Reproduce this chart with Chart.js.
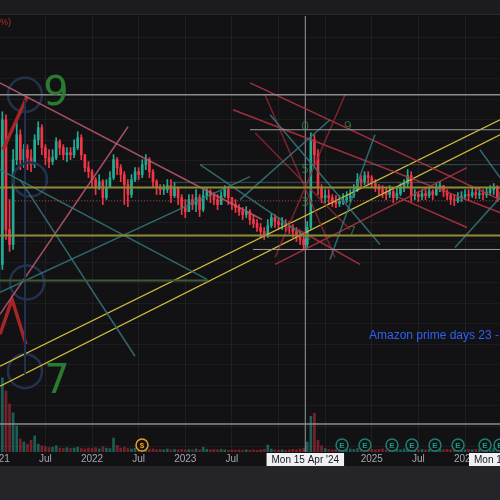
<!DOCTYPE html>
<html>
<head>
<meta charset="utf-8">
<script src="https://cdn.jsdelivr.net/npm/chart.js@4.4.1/dist/chart.umd.min.js"></script>
<style>
  html, body { margin: 0; padding: 0; background: #252529; }
  #wrap { width: 500px; height: 500px; }
</style>
</head>
<body>
<div id="wrap"><canvas id="chart" width="500" height="500"></canvas></div>
<script>
// bi-weekly candles, x is a decimal year, y is price
const startYear = 2021;
const candleStep = 1 / 26;
const firstOpen = 16.0;

const closes = [
  18.8, 33.3, 22.3, 20.8, 29.3, 31.8, 29.3, 30.3, 29.5, 28.8,
  31.3, 32.5, 30.5, 29.5, 29.1, 29.5, 31.1, 30.5, 29.8, 30.0,
  29.8, 30.5, 31.5, 29.8, 28.5, 28.1, 27.3, 26.5, 27.1, 25.5,
  26.5, 27.5, 29.3, 28.5, 27.8, 26.8, 25.8, 27.3, 28.1, 27.8,
  28.8, 29.3, 28.1, 27.1, 26.5, 26.3, 26.3, 26.7, 25.7, 26.5,
  25.5, 24.5, 24.1, 25.3, 24.8, 25.5, 24.3, 25.7, 26.1, 25.7,
  25.3, 24.8, 25.7, 26.3, 25.5, 24.8, 24.5, 24.1, 23.8, 24.1,
  23.3, 22.9, 22.5, 22.1, 21.7, 22.7, 23.5, 23.1, 22.8, 22.9,
  22.7, 22.5, 22.1, 21.7, 21.3, 20.8, 22.5, 31.3, 29.8, 26.5,
  25.5, 25.7, 25.5, 25.1, 24.9, 25.1, 25.3, 25.5, 25.7, 26.3,
  27.3, 27.1, 27.7, 27.5, 26.9, 26.5, 26.3, 26.0, 25.8, 26.1,
  25.5, 25.9, 26.5, 26.9, 27.7, 25.7, 25.8, 25.6, 25.9, 25.7,
  26.1, 25.8, 26.5, 26.7, 26.1, 25.7, 25.3, 25.2, 25.5, 25.6,
  25.8, 25.7, 26.0, 25.8, 25.9, 25.8, 26.0, 26.3, 26.5, 25.5,
  26.0
];
const highs = [
  19.8, 34.1, 33.8, 25.3, 30.3, 33.1, 32.3, 30.8, 30.8, 30.3,
  31.8, 33.1, 32.8, 30.8, 30.3, 30.3, 31.5, 31.3, 30.8, 30.5,
  30.5, 31.3, 32.1, 31.8, 29.8, 29.1, 28.3, 27.5, 27.8, 27.3,
  27.3, 28.1, 29.8, 29.5, 28.8, 28.1, 27.3, 27.8, 28.5, 28.5,
  29.3, 29.8, 29.5, 28.3, 27.3, 26.8, 26.8, 27.3, 27.3, 27.0,
  26.5, 25.8, 25.3, 25.8, 25.8, 26.3, 25.8, 26.3, 26.5, 26.3,
  26.0, 25.8, 26.1, 26.7, 26.5, 25.5, 25.3, 24.8, 24.5, 24.6,
  24.3, 23.8, 23.3, 22.9, 22.5, 23.3, 23.9, 23.8, 23.5, 23.5,
  23.3, 23.1, 22.8, 22.5, 22.1, 21.7, 23.1, 32.0, 31.8, 30.3,
  26.8, 26.3, 26.3, 25.8, 25.7, 25.7, 25.9, 26.1, 26.3, 26.8,
  27.9, 27.7, 28.1, 28.1, 27.7, 27.3, 26.8, 26.7, 26.5, 26.7,
  26.3, 26.5, 26.9, 27.3, 28.3, 28.1, 26.3, 26.1, 26.3, 26.3,
  26.5, 26.3, 26.9, 27.1, 26.7, 26.3, 25.9, 25.8, 26.0, 26.1,
  26.3, 26.3, 26.5, 26.4, 26.5, 26.3, 26.5, 26.7, 26.9, 26.7,
  26.5
];
const lows = [
  15.3, 18.3, 21.3, 20.1, 20.3, 28.8, 28.3, 28.5, 28.3, 28.1,
  28.5, 30.8, 29.8, 28.8, 28.5, 28.8, 29.3, 29.8, 29.3, 29.1,
  29.3, 29.5, 30.3, 29.3, 28.1, 27.5, 26.5, 25.8, 26.3, 24.8,
  25.3, 26.8, 27.3, 27.8, 27.1, 24.8, 24.6, 25.5, 27.1, 27.3,
  27.5, 28.3, 27.5, 26.5, 25.8, 25.8, 25.8, 26.0, 25.0, 25.5,
  24.8, 23.8, 23.5, 24.1, 24.3, 24.1, 23.6, 24.1, 25.3, 25.0,
  24.8, 24.3, 24.8, 25.5, 24.8, 24.3, 24.0, 23.7, 23.3, 23.5,
  22.8, 22.5, 22.1, 21.5, 21.3, 21.5, 22.5, 22.5, 22.3, 22.3,
  22.1, 21.9, 21.5, 21.1, 20.8, 20.3, 20.5, 22.3, 28.8, 25.8,
  25.0, 25.0, 24.8, 24.6, 24.5, 24.6, 24.8, 25.0, 25.1, 25.5,
  26.1, 26.5, 26.8, 26.9, 26.5, 26.1, 25.8, 25.5, 25.3, 25.5,
  25.0, 25.3, 25.7, 26.1, 26.5, 25.1, 25.3, 25.1, 25.3, 25.3,
  25.5, 25.3, 25.7, 26.1, 25.6, 25.3, 24.8, 24.7, 25.0, 25.1,
  25.3, 25.2, 25.5, 25.4, 25.4, 25.3, 25.5, 25.7, 25.8, 25.1,
  25.3
];
// volume in millions of shares
const volumes = [
  16, 17, 14, 11, 9, 6, 3, 2.3, 1.8, 2.7,
  3.7, 1.8, 1.4, 1.2, 1.0, 1.1, 1.4, 0.9, 0.8, 1.0,
  0.8, 0.9, 1.1, 0.8, 0.7, 0.9, 0.8, 1.0, 0.7, 1.2,
  0.9, 0.8, 3.2, 1.5, 0.9, 1.1, 0.8, 0.7, 0.9, 0.6,
  0.8, 0.7, 0.6, 0.7, 0.5, 0.6, 0.5, 0.7, 0.5, 0.6,
  0.5, 0.6, 0.5, 0.6, 0.5, 0.7, 0.5, 1.1, 0.6, 0.5,
  0.6, 0.5, 0.6, 0.5, 0.4, 0.5, 0.4, 0.5, 0.4, 0.5,
  0.4, 0.5, 0.4, 0.5, 0.6, 1.6, 0.7, 0.5, 0.4, 0.5,
  0.4, 0.5, 0.6, 0.5, 0.7, 0.8, 2.3, 8.2, 8.9, 2.7,
  1.4, 0.8, 0.6, 0.5, 0.6, 0.5, 0.6, 0.5, 0.7, 0.6,
  0.8, 0.7, 0.6, 0.8, 0.6, 0.5, 0.6, 0.7, 0.5, 0.6,
  0.7, 0.6, 0.5, 0.7, 0.9, 0.8, 0.6, 0.5, 0.6, 0.5,
  0.6, 0.7, 0.5, 0.6, 0.5, 0.6, 0.5, 0.7, 0.5, 0.6,
  0.5, 0.6, 0.5, 0.6, 0.7, 0.5, 0.6, 0.5, 0.8, 0.6,
  0.5
];

const xMin = 2021.013;
const xMax = 2026.375;
// 2021 sits just left of the visible range, its label is drawn clipped by hand
const firstTick = 2021;
const firstTickLabel = '2021';
const xTicks = [2021.5, 2022, 2022.5, 2023, 2023.5, 2024, 2024.5, 2025, 2025.5, 2026];
const xTickLabels = ['Jul', '2022', 'Jul', '2023', 'Jul', '2024', 'Jul', '2025', 'Jul', '2026'];
const yGridTicks = [41.6, 39.5, 37.5, 35.4, 33.4, 31.3, 29.3, 27.2, 25.2, 23.1, 21.1, 19.0, 17.0, 14.9, 12.9, 10.8, 8.8, 6.7, 4.7, 2.6, 0.6];

// drawing tools, endpoints as [year, price]
const channelLines = [
  [[2021.013, 8.6], [2026.375, 33.3]],
  [[2021.013, 6.6], [2026.375, 31.8]]
];
const redTrendLines = [
  [[2023.512, 34.3], [2026.375, 24.0]],
  [[2023.694, 37.0], [2026.375, 25.3]],
  [[2023.962, 18.8], [2026.021, 28.5]],
  [[2024.209, 22.3], [2024.874, 18.8]],
  [[2025.270, 25.6], [2026.021, 22.5]]
];
const pinkTrendLines = [
  [[2021.013, 37.0], [2023.823, 23.3]],
  [[2021.013, 13.8], [2022.386, 32.6]]
];
const tealFanLines = [
  [[2021.013, 28.3], [2023.233, 17.3]],
  [[2021.228, 27.3], [2022.461, 9.6]],
  [[2021.013, 16.0], [2023.694, 27.6]],
  [[2023.587, 25.3], [2024.552, 33.3]],
  [[2023.909, 33.8], [2025.088, 20.8]],
  [[2025.034, 31.8], [2024.552, 19.3]],
  [[2023.158, 28.8], [2024.337, 21.3]],
  [[2025.892, 20.5], [2026.375, 25.5]],
  [[2026.160, 30.3], [2026.375, 27.5]]
];
const gannRedLines = [
  [[2023.855, 35.8], [2024.605, 19.5]],
  [[2024.713, 35.8], [2023.962, 19.5]],
  [[2023.748, 32.0], [2024.766, 22.3]]
];
const leftRedMarks = [
  [[2021.303, 35.6], [2021.045, 30.3]],
  [[2021.013, 11.8], [2021.142, 15.3], [2021.292, 10.8]]
];
const boxEdgeLines = [
  [[2021.281, 35.3], [2021.281, 7.8]]
];
// horizontal levels: [price, fromYear, toYear]
const greyLevels = [[35.8, xMin, xMax], [2.8, xMin, xMax]];
const thinGreyLevels = [[32.3, 2023.694, xMax], [20.3, 2023.726, xMax]];
const yellowLevels = [[26.5, xMin, xMax], [21.7, xMin, xMax]];
const greenLevels = [[17.2, xMin, 2023.244]];
const gannLevels = [[28.8, 2023.158, xMax], [27.0, 2022.858, 2025.732]];
const lastPriceLevel = [[25.2, 2021.175, xMax]];
const crosshairDate = 2024.287;
const crosshairLabel = "Mon 15 Apr '24";
const secondLabelDate = 2026.461;
const secondLabel = "Mon 15 Jun '26";

const gannCircles = [[2021.281, 35.8], [2021.335, 27.3], [2021.303, 17.0], [2021.281, 8.1]];
const earningsDates = [2024.681, 2024.927, 2025.217, 2025.431, 2025.678, 2025.925, 2026.214, 2026.375];
const dividendDates = [2022.536];
const bigLabels = [
  { text: '9', at: [2021.614, 35.8] },
  { text: '7', at: [2021.624, 7.0] }
];
const smallLabels = [
  { text: '0', at: [2024.284, 32.6] },
  { text: '5', at: [2024.284, 28.3] },
  { text: '3', at: [2024.284, 25.0] },
  { text: '9', at: [2024.745, 32.6] },
  { text: '7', at: [2024.788, 22.1] }
];
const noteText = 'Amazon prime days 23 - 26';
const noteAt = [2024.97, 11.7];

const UP = '#22ab94';
const DOWN = '#f23645';
const AXIS_TEXT = '#a5a8b0';

const opens = closes.map((c, i) => i === 0 ? firstOpen : closes[i - 1]);
const dates = closes.map((c, i) => startYear + i * candleStep);
const isUp = closes.map((c, i) => c >= opens[i]);

function lineSets(list, color, width, dash) {
  return list.map(pts => ({
    type: 'line',
    data: pts.map(p => ({ x: p[0], y: p[1] })),
    borderColor: color,
    borderWidth: width,
    borderDash: dash || [],
    pointRadius: 0,
    fill: false,
    tension: 0,
    order: 1
  }));
}
function levelSets(list, color, width, dash) {
  return lineSets(list.map(l => [[l[1], l[0]], [l[2], l[0]]]), color, width, dash);
}

const datasets = [
  {
    type: 'bar', yAxisID: 'yv', order: 30, grouped: false, barThickness: 2,
    data: dates.map((d, i) => ({ x: d, y: volumes[i] })),
    backgroundColor: isUp.map(u => u ? 'rgba(34,171,148,0.5)' : 'rgba(242,54,69,0.45)')
  },
  {
    type: 'bar', order: 21, grouped: false, barThickness: 1,
    data: dates.map((d, i) => ({ x: d, y: [Math.min(lows[i], opens[i], closes[i]), Math.max(highs[i], opens[i], closes[i])] })),
    backgroundColor: isUp.map(u => u ? UP : DOWN)
  },
  {
    type: 'bar', order: 20, grouped: false, barThickness: 2, minBarLength: 1,
    data: dates.map((d, i) => ({ x: d, y: [opens[i], closes[i]] })),
    backgroundColor: isUp.map(u => u ? UP : DOWN)
  },
  {
    type: 'line', order: 2, showLine: false,
    data: gannCircles.map(p => ({ x: p[0], y: p[1] })),
    pointRadius: 17, pointBorderWidth: 2.5, pointBorderColor: '#22324c', pointBackgroundColor: 'rgba(0,0,0,0)'
  },
  ...levelSets(greyLevels, '#8d8d90', 1.5),
  ...levelSets(thinGreyLevels, '#9c9c9f', 1),
  ...levelSets(yellowLevels, '#8f8b38', 2),
  ...levelSets(greenLevels, '#3d5a37', 2),
  ...levelSets(gannLevels, 'rgba(80,125,120,0.55)', 1),
  ...levelSets(lastPriceLevel, 'rgba(210,70,70,0.7)', 1, [1, 2]),
  ...lineSets(tealFanLines, 'rgba(52,120,125,0.85)', 1.5),
  ...lineSets(boxEdgeLines, '#1f3350', 2),
  ...lineSets(gannRedLines, 'rgba(150,40,50,0.8)', 1.5),
  ...lineSets(pinkTrendLines, 'rgba(190,90,110,0.85)', 1.5),
  ...lineSets(redTrendLines, 'rgba(175,50,65,0.9)', 1.5),
  ...lineSets(leftRedMarks, '#a52626', 3.5),
  ...lineSets(channelLines, '#d0bc3c', 1.3),
  ...lineSets([[[crosshairDate, 0], [crosshairDate, 44]]], '#9a9a9e', 1)
];

const paintPlugin = {
  id: 'paint',
  beforeDraw(chart) {
    const { ctx, chartArea, scales } = chart;
    ctx.save();
    ctx.fillStyle = '#252529';
    ctx.fillRect(0, 0, chart.width, chart.height);
    ctx.fillStyle = '#1c1c20';
    ctx.fillRect(0, 0, chart.width, chartArea.top - 1);
    ctx.fillStyle = '#2a2a2e';
    ctx.fillRect(0, chartArea.top - 2, chart.width, 1);
    ctx.fillStyle = '#121215';
    ctx.fillRect(0, chartArea.top - 1, chart.width, scales.x.bottom - chartArea.top + 1);
    // horizontal price grid
    ctx.strokeStyle = 'rgba(255,255,255,0.045)';
    ctx.lineWidth = 1;
    yGridTicks.forEach(v => {
      const py = Math.round(scales.y.getPixelForValue(v)) + 0.5;
      ctx.beginPath(); ctx.moveTo(chartArea.left, py); ctx.lineTo(chartArea.right, py); ctx.stroke();
    });
    ctx.restore();
  },
  afterDatasetsDraw(chart) {
    const { ctx, chartArea, scales } = chart;
    const X = v => scales.x.getPixelForValue(v);
    const Y = v => scales.y.getPixelForValue(v);
    ctx.save();
    ctx.textAlign = 'center';
    ctx.textBaseline = 'middle';
    ctx.fillStyle = '#2a7a31';
    ctx.font = '40px "DejaVu Sans"';
    bigLabels.forEach(l => ctx.fillText(l.text, X(l.at[0]), Y(l.at[1])));
    ctx.fillStyle = 'rgba(70,150,80,0.6)';
    ctx.font = '13px "DejaVu Sans"';
    smallLabels.forEach(l => ctx.fillText(l.text, X(l.at[0]), Y(l.at[1])));

    ctx.textAlign = 'left';
    ctx.fillStyle = '#2e62f0';
    ctx.font = '12px "Liberation Sans"';
    ctx.fillText(noteText, X(noteAt[0]), Y(noteAt[1]));

    ctx.fillStyle = '#b83030';
    ctx.font = '9px "Liberation Sans"';
    ctx.fillText('%)', 0, chartArea.top + 7);

    // event badges near the time axis
    const by = Y(0.7);
    ctx.textAlign = 'center';
    ctx.lineWidth = 1.5;
    ctx.font = 'bold 8px "Liberation Sans"';
    earningsDates.forEach(d => {
      ctx.strokeStyle = '#1d7f74';
      ctx.fillStyle = '#121215';
      ctx.beginPath(); ctx.arc(X(d), by, 6, 0, Math.PI * 2); ctx.fill(); ctx.stroke();
      ctx.fillStyle = '#1d9a8a';
      ctx.fillText('E', X(d), by + 0.5);
    });
    dividendDates.forEach(d => {
      ctx.strokeStyle = '#f29d1a';
      ctx.fillStyle = '#121215';
      ctx.beginPath(); ctx.arc(X(d), by, 6, 0, Math.PI * 2); ctx.fill(); ctx.stroke();
      ctx.fillStyle = '#f29d1a';
      ctx.fillText('$', X(d), by + 0.5);
    });
    ctx.restore();
  },
  afterDraw(chart) {
    const { ctx, scales } = chart;
    ctx.save();
    ctx.font = '10px "Liberation Sans"';
    ctx.textAlign = 'center';
    ctx.textBaseline = 'middle';
    ctx.fillStyle = AXIS_TEXT;
    ctx.fillText(firstTickLabel, scales.x.getPixelForValue(firstTick), scales.x.top + 7);
    [[crosshairDate, crosshairLabel], [secondLabelDate, secondLabel]].forEach(([d, t]) => {
      const cx = scales.x.getPixelForValue(d);
      const w = ctx.measureText(t).width + 10;
      ctx.fillStyle = '#f0f0f2';
      ctx.fillRect(cx - w / 2, scales.x.top + 1, w, 13);
      ctx.fillStyle = '#131722';
      ctx.fillText(t, cx, scales.x.top + 8);
    });
    ctx.restore();
  }
};

new Chart(document.getElementById('chart'), {
  type: 'bar',
  data: { datasets },
  plugins: [paintPlugin],
  options: {
    responsive: false,
    animation: false,
    layout: { autoPadding: false, padding: { top: 16, bottom: 34, left: 0, right: 0 } },
    plugins: { legend: { display: false }, tooltip: { enabled: false } },
    scales: {
      x: {
        type: 'linear', min: xMin, max: xMax, offset: false,
        afterBuildTicks: axis => { axis.ticks = xTicks.map(v => ({ value: v })); },
        ticks: {
          autoSkip: false, maxRotation: 0, padding: 1,
          color: AXIS_TEXT, font: { family: 'Liberation Sans', size: 10 },
          callback: (v, i) => xTickLabels[i]
        },
        grid: { color: 'rgba(255,255,255,0.055)', drawTicks: false, offset: false },
        border: { display: false }
      },
      y: { display: false, min: 0, max: 43.7 },
      yv: { display: false, min: 0, max: 100 }
    }
  }
});
</script>
</body>
</html>
